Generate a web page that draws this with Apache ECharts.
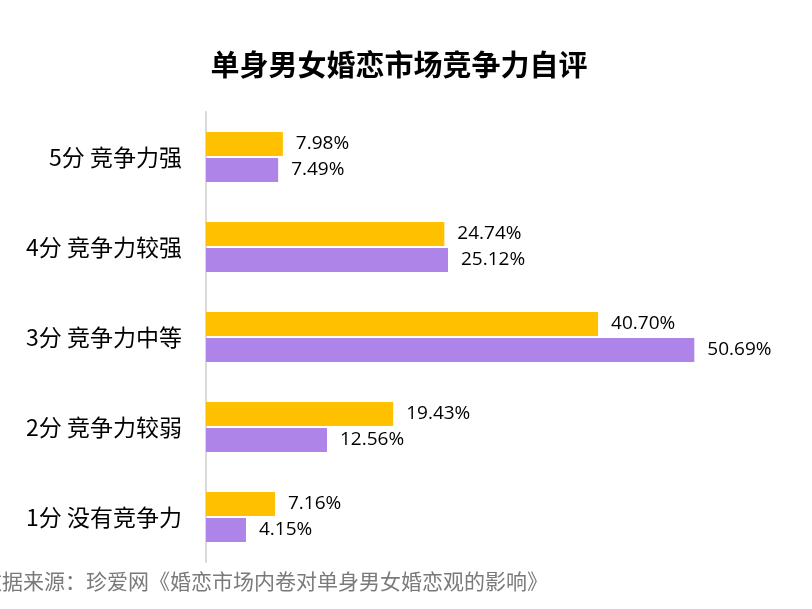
<!DOCTYPE html>
<html><head><meta charset="utf-8">
<script src="https://cdn.jsdelivr.net/npm/echarts@6/dist/echarts.min.js"></script>
<style>html,body{margin:0;padding:0;background:#fff}#c{width:812px;height:609px}</style>
</head><body><div id="c"></div>
<script>
const categories = ['5分 竞争力强', '4分 竞争力较强', '3分 竞争力中等', '2分 竞争力较弱', '1分 没有竞争力'];
const goldValues = [7.98, 24.74, 40.70, 19.43, 7.16];
const purpleValues = [7.49, 25.12, 50.69, 12.56, 4.15];
const titleText = '单身男女婚恋市场竞争力自评';
const sourceText = '数据来源：珍爱网《婚恋市场内卷对单身男女婚恋观的影响》';

const chart = echarts.init(document.getElementById('c'), null, {renderer: 'canvas'});
const labelStyle = {
  show: true, position: 'right', distance: 13,
  fontSize: 19, color: '#000', fontFamily: '"Open Sans", "Noto Sans", sans-serif',
  formatter: p => p.value.toFixed(2) + '%'
};
chart.setOption({
  animation: false,
  title: {
    text: titleText, left: 394, textAlign: 'center', top: 45,
    textStyle: {fontSize: 29, fontWeight: 'bold', color: '#000', fontFamily: '"Noto Sans CJK SC", sans-serif'}
  },
  grid: {left: 206, top: 112, width: 578, height: 450, containLabel: false},
  xAxis: {type: 'value', min: 0, max: 60, show: false},
  yAxis: {
    type: 'category', data: categories, inverse: true,
    axisLine: {show: true, lineStyle: {color: '#d9d9d9', width: 2}},
    axisTick: {show: false},
    axisLabel: {fontSize: 23, color: '#000', margin: 24, fontFamily: '"Noto Sans CJK SC", sans-serif'}
  },
  series: [
    {type: 'bar', data: goldValues, barWidth: 24, barGap: '8%', itemStyle: {color: '#FFC000'}, label: labelStyle},
    {type: 'bar', data: purpleValues, barWidth: 24, barGap: '8%', itemStyle: {color: '#AF84E9'}, label: labelStyle}
  ],
  graphic: [{
    type: 'text', right: 264, top: 571,
    style: {text: sourceText, fontSize: 21, fill: '#7a7a7a', fontFamily: '"Noto Sans CJK SC", sans-serif'}
  }]
});
</script></body></html>
